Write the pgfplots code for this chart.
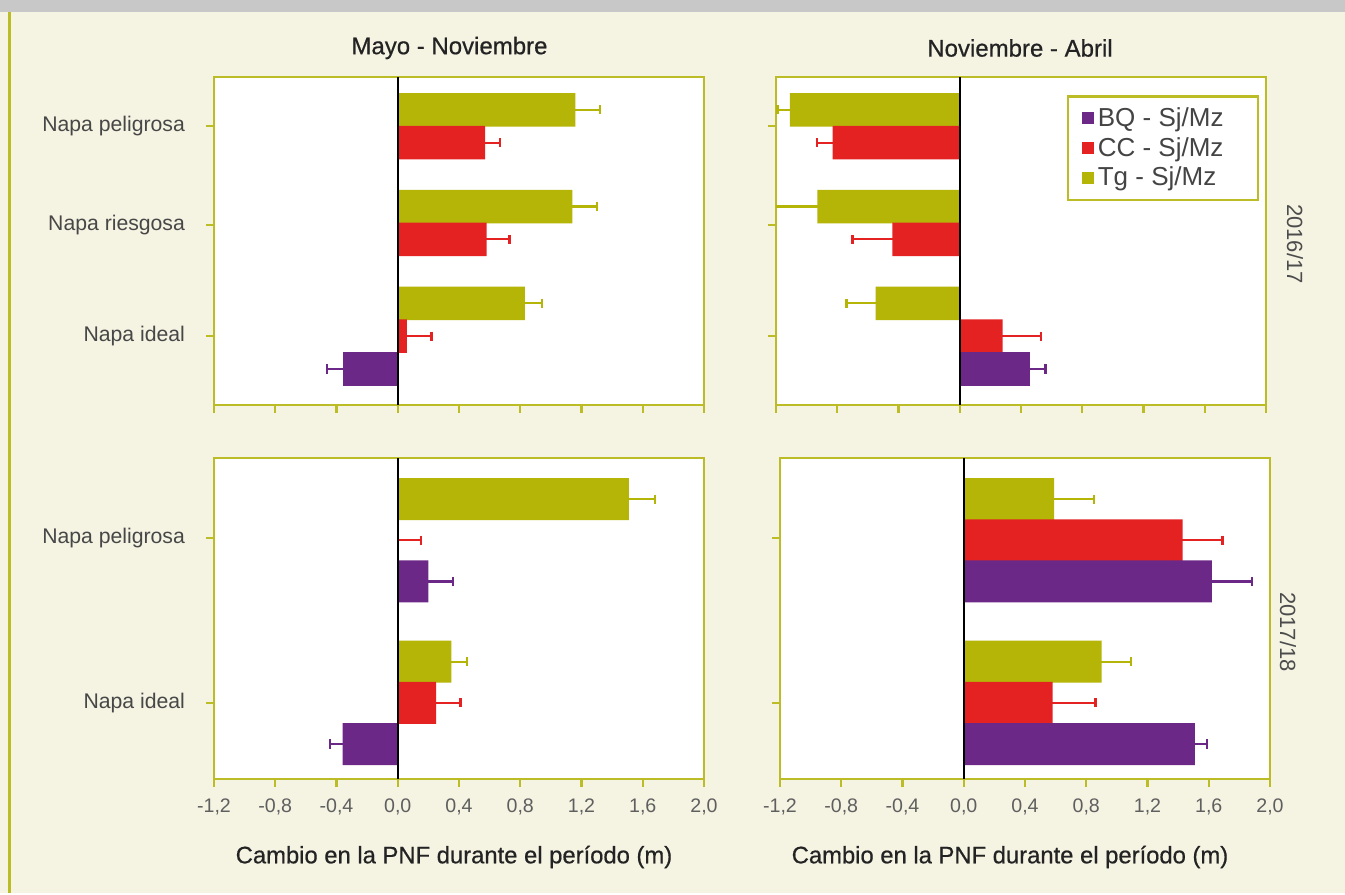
\documentclass[border=0pt]{standalone}
\usepackage{pgfplots}
\pgfplotsset{compat=1.18}
\usepackage{fontspec}
\setmainfont{Liberation Sans}
\newfontface\medfont[FakeBold=0.6]{Liberation Sans}
\definecolor{bq}{RGB}{107,40,135}
\definecolor{cc}{RGB}{228,34,34}
\definecolor{tg}{RGB}{181,181,8}
\definecolor{frame}{RGB}{188,188,38}
\definecolor{bg}{RGB}{245,243,226}
\definecolor{strip}{RGB}{200,200,200}
\definecolor{ticklab}{RGB}{95,95,95}
\definecolor{txt}{RGB}{35,35,35}
\pgfplotsset{
  panel/.style={
    scale only axis, width=245pt,
    xmin=-1.2, xmax=2.0,
    xtick={-1.2,-0.8,-0.4,0,0.4,0.8,1.2,1.6,2.0},
    axis line style={frame, line width=1.3pt},
    axis background/.style={fill=white},
    tick style={frame, line width=1.1pt},
    major tick length=4pt, tick align=outside,
    xtick pos=lower, ytick pos=left,
    y dir=reverse, xbar,
    ticklabel style={font=\fontsize{9.8}{11}\selectfont, text=ticklab},
    xticklabel style={yshift=-2.5pt},
    yticklabel style={text=ticklab!75!black, font=\fontsize{10.6}{12}\selectfont, xshift=-7pt},
  },
  eb/.style={error bars/.cd, x dir=both, x explicit,
    error bar style={draw=#1, line width=1.1pt},
    error mark options={draw=#1, line width=1.1pt, mark size=2.3pt, rotate=90}, /pgfplots/.cd},
  sbq/.style={forget plot, fill=bq, draw=none, bar shift=0pt, eb=bq},
  scc/.style={forget plot, fill=cc, draw=none, bar shift=0pt, eb=cc},
  stg/.style={forget plot, fill=tg, draw=none, bar shift=0pt, eb=tg},
}
\newcommand{\zeroline}{\draw[black, line width=1pt] ({axis cs:0,0}|-{rel axis cs:0,0}) -- ({axis cs:0,0}|-{rel axis cs:0,1});}
\begin{document}
\begin{tikzpicture}
\fill[bg] (0,0) rectangle (672.5pt,-446.5pt);
\fill[strip] (0,0) rectangle (672.5pt,-6pt);
\draw[frame, line width=1.5pt] (4.5pt,-6pt) -- (4.5pt,-446.5pt);

% ---------- top left: 2016/17, Mayo - Noviembre
\begin{axis}[panel, at={(107pt,-202.5pt)}, anchor=south west, height=164pt,
  ymin=0, ymax=10, bar width=1.02,
  ytick={1.5,4.5,7.9}, yticklabels={Napa peligrosa, Napa riesgosa, Napa ideal},
  xticklabels={}]
\addplot[stg] coordinates {(1.16,1.0) += (0.16,0) -= (0,0) (1.14,3.95) += (0.16,0) -= (0,0) (0.83,6.9) += (0.11,0) -= (0,0)};
\addplot[scc] coordinates {(0.57,2.0) += (0.10,0) -= (0,0) (0.58,4.95) += (0.15,0) -= (0,0) (0.06,7.9) += (0.16,0) -= (0,0)};
\addplot[sbq] coordinates {(-0.36,8.9) += (0,0) -= (0.10,0)};
\zeroline
\end{axis}

% ---------- top right: 2016/17, Noviembre - Abril
\begin{axis}[panel, at={(388pt,-202.5pt)}, anchor=south west, height=164pt,
  ymin=0, ymax=10, bar width=1.02,
  ytick={1.5,4.5,7.9}, yticklabels={}, xticklabels={},
  legend style={at={(0.986,0.945)}, anchor=north east, draw=frame, line width=1.3pt,
    font=\fontsize{13}{15}\selectfont, text=txt!85!white, row sep=0pt, inner xsep=7pt, inner ysep=3.5pt,
    cells={anchor=west}},
  legend image code/.code={\fill[#1, draw=none] (0pt,-3pt) rectangle (6pt,3pt);}]
\addplot[stg] coordinates {(-1.11,1.0) += (0,0) -= (0.08,0) (-0.93,3.95) += (0,0) -= (0.30,0) (-0.55,6.9) += (0,0) -= (0.19,0)};
\addplot[scc] coordinates {(-0.83,2.0) += (0,0) -= (0.10,0) (-0.44,4.95) += (0,0) -= (0.26,0) (0.28,7.9) += (0.25,0) -= (0,0)};
\addplot[sbq] coordinates {(0.46,8.9) += (0.10,0) -= (0,0)};
\zeroline
\addlegendimage{fill=bq}\addlegendentry{\makebox[71pt][l]{BQ - Sj/Mz}}
\addlegendimage{fill=cc}\addlegendentry{\makebox[71pt][l]{CC - Sj/Mz}}
\addlegendimage{fill=tg}\addlegendentry{\makebox[71pt][l]{Tg - Sj/Mz}}
\end{axis}

% ---------- bottom left: 2017/18, Mayo - Noviembre
\begin{axis}[panel, at={(107pt,-389.5pt)}, anchor=south west, height=160.5pt,
  ymin=0, ymax=7.8, bar width=1.02,
  ytick={1.95,5.95}, yticklabels={Napa peligrosa, Napa ideal},
  xticklabels={{-1,2},{-0,8},{-0,4},{0,0},{0,4},{0,8},{1,2},{1,6},{2,0}}]
\addplot[stg] coordinates {(1.51,1.0) += (0.17,0) -= (0,0) (0.35,4.95) += (0.10,0) -= (0,0)};
\addplot[scc, error bars/x dir=plus] coordinates {(0.0,2.0) += (0.15,0) -= (0,0) (0.25,5.95) += (0.16,0) -= (0,0)};
\addplot[sbq] coordinates {(0.20,3.0) += (0.16,0) -= (0,0) (-0.36,6.95) += (0,0) -= (0.08,0)};
\zeroline
\end{axis}

% ---------- bottom right: 2017/18, Noviembre - Abril
\begin{axis}[panel, at={(390pt,-389.5pt)}, anchor=south west, height=160.5pt,
  ymin=0, ymax=7.8, bar width=1.02,
  ytick={1.95,5.95}, yticklabels={},
  xticklabels={{-1,2},{-0,8},{-0,4},{0,0},{0,4},{0,8},{1,2},{1,6},{2,0}}]
\addplot[stg] coordinates {(0.59,1.0) += (0.26,0) -= (0,0) (0.90,4.95) += (0.19,0) -= (0,0)};
\addplot[scc] coordinates {(1.43,2.0) += (0.26,0) -= (0,0) (0.58,5.95) += (0.28,0) -= (0,0)};
\addplot[sbq] coordinates {(1.62,3.0) += (0.26,0) -= (0,0) (1.51,6.95) += (0.08,0) -= (0,0)};
\zeroline
\end{axis}

% ---------- titles and labels
\node[font=\medfont\fontsize{12}{14}\selectfont, text=txt] at (224.75pt,-24pt) {Mayo - Noviembre};
\node[font=\medfont\fontsize{12}{14}\selectfont, text=txt] at (510pt,-24pt) {Noviembre - Abril};
\node[font=\medfont\fontsize{11.9}{14}\selectfont, text=txt] at (227pt,-428.5pt) {Cambio en la PNF durante el período (m)};
\node[font=\medfont\fontsize{11.9}{14}\selectfont, text=txt] at (505pt,-428.5pt) {Cambio en la PNF durante el período (m)};
\node[font=\fontsize{11}{13}\selectfont, text=ticklab!80!black, rotate=-90] at (647.5pt,-122pt) {2016/17};
\node[font=\fontsize{11}{13}\selectfont, text=ticklab!80!black, rotate=-90] at (644pt,-316pt) {2017/18};
\end{tikzpicture}
\end{document}
